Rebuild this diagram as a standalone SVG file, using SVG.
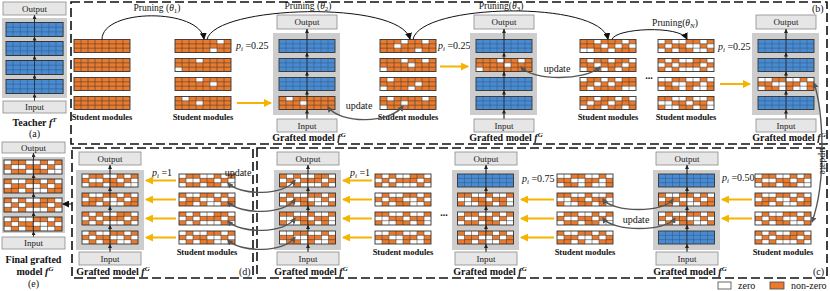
<svg xmlns="http://www.w3.org/2000/svg" width="830" height="291" viewBox="0 0 830 291">
<style>
text{font-family:"Liberation Serif","Times New Roman",serif;fill:#111}
.io{font-size:9px;text-anchor:middle;fill:#222}
.sm{font-size:8.5px;font-weight:bold;text-anchor:middle}
.gm{font-size:10px;font-weight:bold;text-anchor:middle}
.lb{font-size:10px}
.pr{font-size:9.5px;text-anchor:middle}
.box{fill:#e6e6e6;stroke:#8a8a8a;stroke-width:0.8}
.pan{fill:#cdcdcd}
.or{fill:#eb7a2c}
.wh{fill:#fff}
.gl{fill:none;stroke:#3a3a3a;stroke-width:0.55}
.glb{fill:none;stroke:#2f5c8a;stroke-width:0.55}
.bd{fill:none;stroke:#333;stroke-width:0.9}
.dash{fill:none;stroke:#111;stroke-width:1.6;stroke-dasharray:9 4}
.ya{fill:none;stroke:#f5b400;stroke-width:2;marker-end:url(#ay)}
.pa{fill:none;stroke:#111;stroke-width:1;marker-end:url(#ak)}
.ua{fill:none;stroke:#555;stroke-width:1.4;marker-end:url(#ag);marker-start:url(#ag)}
.va{fill:none;stroke:#222;stroke-width:0.7}
.vm{marker-end:url(#as)}
</style>
<defs>
<marker id="ay" viewBox="0 0 8 8" refX="7" refY="4" markerWidth="8" markerHeight="8" markerUnits="userSpaceOnUse" orient="auto"><path d="M0,0L8,4L0,8z" fill="#f5b400"/></marker>
<marker id="ak" viewBox="0 0 7 7" refX="6" refY="3.5" markerWidth="7" markerHeight="7" markerUnits="userSpaceOnUse" orient="auto"><path d="M0,0L7,3.5L0,7z" fill="#111"/></marker>
<marker id="ag" viewBox="0 0 6 6" refX="5" refY="3" markerWidth="6" markerHeight="6" markerUnits="userSpaceOnUse" orient="auto-start-reverse"><path d="M0,0L6,3L0,6z" fill="#555"/></marker>
<marker id="as" viewBox="0 0 4 4" refX="4" refY="2" markerWidth="4" markerHeight="4" markerUnits="userSpaceOnUse" orient="auto"><path d="M0,0L4,2L0,4z" fill="#222"/></marker>
<g id="gl"><path class="gl" d="M7,0V13M14,0V13M21,0V13M28,0V13M35,0V13M42,0V13M49,0V13M0,4.33H56M0,8.67H56"/><rect class="bd" width="56" height="13"/></g>
<g id="glb"><path class="glb" d="M7,0V13M14,0V13M21,0V13M28,0V13M35,0V13M42,0V13M49,0V13M0,4.33H56M0,8.67H56"/><rect class="bd" width="56" height="13"/></g>
<g id="bl"><rect width="56" height="13" fill="#4a8ad0"/><use href="#glb"/></g>
<g id="o0"><rect class="or" width="56" height="13"/><use href="#gl"/></g>
<g id="s1"><rect class="or" width="56" height="13"/><path class="wh" d="M42,0h7v4.33h-7zM35,8.67h7v4.33h-7z"/><use href="#gl"/></g>
<g id="s2"><rect class="or" width="56" height="13"/><path class="wh" d="M21,0h7v4.33h-7zM0,8.67h7v4.33h-7z"/><use href="#gl"/></g>
<g id="s3"><rect class="or" width="56" height="13"/><path class="wh" d="M21,0h7v4.33h-7zM35,4.33h7v4.33h-7z"/><use href="#gl"/></g>
<g id="s4"><rect class="or" width="56" height="13"/><path class="wh" d="M7,0h7v4.33h-7zM21,4.33h7v4.33h-7z"/><use href="#gl"/></g>
<g id="m1"><rect class="or" width="56" height="13"/><path class="wh" d="M21,0h7v4.33h-7zM42,0h7v4.33h-7zM14,4.33h7v4.33h-7zM35,8.67h7v4.33h-7z"/><use href="#gl"/></g>
<g id="m2"><rect class="or" width="56" height="13"/><path class="wh" d="M21,0h7v4.33h-7zM42,0h7v4.33h-7zM0,8.67h7v4.33h-7zM28,4.33h7v4.33h-7z"/><use href="#gl"/></g>
<g id="m3"><rect class="or" width="56" height="13"/><path class="wh" d="M7,0h7v4.33h-7zM35,4.33h7v4.33h-7zM0,8.67h7v4.33h-7zM28,8.67h7v4.33h-7z"/><use href="#gl"/></g>
<g id="m4"><rect class="or" width="56" height="13"/><path class="wh" d="M7,0h7v4.33h-7zM21,4.33h7v4.33h-7zM42,0h7v4.33h-7zM0,8.67h7v4.33h-7z"/><use href="#gl"/></g>
<g id="h1"><rect class="or" width="56" height="13"/><path class="wh" d="M14,0h7v4.33h-7zM42,0h7v4.33h-7zM0,8.67h7v4.33h-7zM21,4.33h7v4.33h-7zM28,8.67h7v4.33h-7zM49,4.33h7v4.33h-7zM35,4.33h7v4.33h-7zM7,8.67h7v4.33h-7z"/><use href="#gl"/></g>
<g id="h2"><rect class="or" width="56" height="13"/><path class="wh" d="M7,0h7v4.33h-7zM28,0h7v4.33h-7zM42,4.33h7v4.33h-7zM0,8.67h7v4.33h-7zM21,8.67h7v4.33h-7zM49,0h7v4.33h-7zM14,4.33h7v4.33h-7zM35,8.67h7v4.33h-7z"/><use href="#gl"/></g>
<g id="h3"><rect class="or" width="56" height="13"/><path class="wh" d="M0,0h7v4.33h-7zM21,0h7v4.33h-7zM35,0h7v4.33h-7zM14,4.33h7v4.33h-7zM42,8.67h7v4.33h-7zM7,8.67h7v4.33h-7zM28,4.33h7v4.33h-7zM49,8.67h7v4.33h-7z"/><use href="#gl"/></g>
<g id="h4"><rect class="or" width="56" height="13"/><path class="wh" d="M14,0h7v4.33h-7zM35,0h7v4.33h-7zM49,0h7v4.33h-7zM7,4.33h7v4.33h-7zM28,4.33h7v4.33h-7zM0,8.67h7v4.33h-7zM21,8.67h7v4.33h-7zM42,8.67h7v4.33h-7z"/><use href="#gl"/></g>
<g id="d1"><rect class="or" width="56" height="13"/><path class="wh" d="M0,0h7v4.33h-7zM14,0h7v4.33h-7zM21,0h7v4.33h-7zM42,0h7v4.33h-7zM7,4.33h7v4.33h-7zM28,4.33h7v4.33h-7zM35,4.33h7v4.33h-7zM49,4.33h7v4.33h-7zM0,8.67h7v4.33h-7zM14,8.67h7v4.33h-7zM35,8.67h7v4.33h-7zM42,8.67h7v4.33h-7z"/><use href="#gl"/></g>
<g id="d2"><rect class="or" width="56" height="13"/><path class="wh" d="M7,0h7v4.33h-7zM21,0h7v4.33h-7zM28,0h7v4.33h-7zM49,0h7v4.33h-7zM0,4.33h7v4.33h-7zM14,4.33h7v4.33h-7zM42,4.33h7v4.33h-7zM7,8.67h7v4.33h-7zM21,8.67h7v4.33h-7zM28,8.67h7v4.33h-7zM35,8.67h7v4.33h-7zM49,8.67h7v4.33h-7z"/><use href="#gl"/></g>
<g id="d3"><rect class="or" width="56" height="13"/><path class="wh" d="M0,0h7v4.33h-7zM7,0h7v4.33h-7zM28,0h7v4.33h-7zM35,0h7v4.33h-7zM49,0h7v4.33h-7zM14,4.33h7v4.33h-7zM21,4.33h7v4.33h-7zM42,4.33h7v4.33h-7zM0,8.67h7v4.33h-7zM21,8.67h7v4.33h-7zM35,8.67h7v4.33h-7zM42,8.67h7v4.33h-7z"/><use href="#gl"/></g>
<g id="d4"><rect class="or" width="56" height="13"/><path class="wh" d="M14,0h7v4.33h-7zM21,0h7v4.33h-7zM35,0h7v4.33h-7zM42,0h7v4.33h-7zM0,4.33h7v4.33h-7zM7,4.33h7v4.33h-7zM28,4.33h7v4.33h-7zM49,4.33h7v4.33h-7zM7,8.67h7v4.33h-7zM14,8.67h7v4.33h-7zM35,8.67h7v4.33h-7zM49,8.67h7v4.33h-7z"/><use href="#gl"/></g>
<g id="d5"><rect class="or" width="56" height="13"/><path class="wh" d="M0,0h7v4.33h-7zM21,0h7v4.33h-7zM28,0h7v4.33h-7zM42,0h7v4.33h-7zM7,4.33h7v4.33h-7zM14,4.33h7v4.33h-7zM35,4.33h7v4.33h-7zM49,4.33h7v4.33h-7zM0,8.67h7v4.33h-7zM21,8.67h7v4.33h-7zM42,8.67h7v4.33h-7zM49,8.67h7v4.33h-7z"/><use href="#gl"/></g>
<g id="d6"><rect class="or" width="56" height="13"/><path class="wh" d="M7,0h7v4.33h-7zM14,0h7v4.33h-7zM35,0h7v4.33h-7zM49,0h7v4.33h-7zM0,4.33h7v4.33h-7zM21,4.33h7v4.33h-7zM28,4.33h7v4.33h-7zM42,4.33h7v4.33h-7zM14,8.67h7v4.33h-7zM28,8.67h7v4.33h-7zM35,8.67h7v4.33h-7z"/><use href="#gl"/></g>
<g id="vaA"><path class="va" d="M0,101V15"/><path class="va vm" d="M0,101V93.5"/><path class="va vm" d="M0,79.5V74.5"/><path class="va vm" d="M0,60.5V55.5"/><path class="va vm" d="M0,41.5V36.5"/><path class="va vm" d="M0,22.5V15"/></g>
<g id="vaB"><path class="va" d="M0,119V29"/><path class="va vm" d="M0,119V109.5"/><path class="va vm" d="M0,96.5V90.5"/><path class="va vm" d="M0,77.5V71.5"/><path class="va vm" d="M0,58.5V52.5"/><path class="va vm" d="M0,39.5V29"/></g>
<g id="vaC"><path class="va" d="M0,252V165"/><path class="va vm" d="M0,252V244"/><path class="va vm" d="M0,231V225"/><path class="va vm" d="M0,212V206"/><path class="va vm" d="M0,193V187"/><path class="va vm" d="M0,174V165"/></g>
<g id="vaE"><path class="va" d="M0,237V153"/><path class="va vm" d="M0,237V231"/><path class="va vm" d="M0,217V212"/><path class="va vm" d="M0,198V193"/><path class="va vm" d="M0,179V174"/><path class="va vm" d="M0,160V153"/></g>
</defs>
<rect width="830" height="291" fill="#fff"/>

<g id="frames">
<rect class="dash" x="71" y="2" width="756" height="142"/>
<rect class="dash" x="72" y="148" width="181" height="130"/>
<rect class="dash" x="257" y="148" width="570" height="130"/>
<text class="lb" x="812" y="12">(b)</text>
<text class="lb" x="813" y="275">(c)</text>
<text class="lb" x="239" y="275">(d)</text>
</g>

<g id="teacher">
<rect class="box" x="3" y="2" width="63" height="13"/><text class="io" x="34.5" y="11.5">Output</text>
<rect class="pan" x="2" y="18" width="65" height="80"/>
<use href="#bl" transform="translate(6,22.5) scale(1.02,1.077)"/>
<use href="#bl" transform="translate(6,41.5) scale(1.02,1.077)"/>
<use href="#bl" transform="translate(6,60.5) scale(1.02,1.077)"/>
<use href="#bl" transform="translate(6,79.5) scale(1.02,1.077)"/>
<use href="#vaA" x="34.5"/>
<rect class="box" x="3" y="101" width="63" height="12"/><text class="io" x="34.5" y="110">Input</text>
<text class="gm" x="34.5" y="126">Teacher <tspan font-style="italic">f</tspan><tspan font-size="7" dy="-4" font-style="italic">T</tspan></text>
<text class="lb" x="34.5" y="137" text-anchor="middle">(a)</text>
</g>

<g id="b-student1">
<use href="#o0" x="74" y="39.5"/><use href="#o0" x="74" y="58.5"/><use href="#o0" x="74" y="77.5"/><use href="#o0" x="74" y="96.5"/>
<text class="sm" x="102" y="120">Student modules</text>
</g>
<g id="b-student2">
<use href="#s1" x="175" y="39.5"/><use href="#s2" x="175" y="58.5"/><use href="#s3" x="175" y="77.5"/><use href="#s4" x="175" y="96.5"/>
<text class="sm" x="203" y="120">Student modules</text>
<text class="lb" x="236" y="49"><tspan font-style="italic">p</tspan><tspan font-size="7" dy="2" font-style="italic">i</tspan><tspan dy="-2"> =0.25</tspan></text>
</g>
<g id="b-graft1">
<rect class="box" x="277" y="15" width="60" height="14"/><text class="io" x="307" y="25">Output</text>
<rect class="pan" x="273" y="33" width="67" height="82"/>
<use href="#bl" x="279" y="39.5"/><use href="#bl" x="279" y="58.5"/><use href="#bl" x="279" y="77.5"/><use href="#s4" x="279" y="96.5"/>
<use href="#vaB" x="307"/>
<rect class="box" x="277" y="119" width="60" height="13"/><text class="io" x="307" y="129">Input</text>
<text class="gm" x="309" y="141">Grafted model <tspan font-style="italic">f</tspan><tspan font-size="7" dy="-4" font-style="italic">G</tspan></text>
</g>
<g id="b-student3">
<use href="#m1" x="380" y="39.5"/><use href="#m2" x="380" y="58.5"/><use href="#m3" x="380" y="77.5"/><use href="#m4" x="380" y="96.5"/>
<text class="sm" x="408" y="120">Student modules</text>
<text class="lb" x="438" y="49"><tspan font-style="italic">p</tspan><tspan font-size="7" dy="2" font-style="italic">i</tspan><tspan dy="-2"> =0.25</tspan></text>
</g>
<g id="b-graft2">
<rect class="box" x="474" y="15" width="60" height="14"/><text class="io" x="504" y="25">Output</text>
<rect class="pan" x="470" y="33" width="67" height="82"/>
<use href="#bl" x="476" y="39.5"/><use href="#m2" x="476" y="58.5"/><use href="#bl" x="476" y="77.5"/><use href="#bl" x="476" y="96.5"/>
<use href="#vaB" x="504"/>
<rect class="box" x="474" y="119" width="60" height="13"/><text class="io" x="504" y="129">Input</text>
<text class="gm" x="506" y="141">Grafted model <tspan font-style="italic">f</tspan><tspan font-size="7" dy="-4" font-style="italic">G</tspan></text>
</g>
<g id="b-student4">
<use href="#h1" x="580" y="39.5"/><use href="#h2" x="580" y="58.5"/><use href="#h3" x="580" y="77.5"/><use href="#h4" x="580" y="96.5"/>
<text class="sm" x="608" y="120">Student modules</text>
<text class="lb" x="649" y="79" text-anchor="middle" font-weight="bold">...</text>
</g>
<g id="b-student5">
<use href="#d1" x="658" y="39.5"/><use href="#d2" x="658" y="58.5"/><use href="#d3" x="658" y="77.5"/><use href="#d4" x="658" y="96.5"/>
<text class="sm" x="686" y="120">Student modules</text>
<text class="lb" x="718" y="50"><tspan font-style="italic">p</tspan><tspan font-size="7" dy="2" font-style="italic">i</tspan><tspan dy="-2"> =0.25</tspan></text>
</g>
<g id="b-graft3">
<rect class="box" x="756" y="15" width="60" height="14"/><text class="io" x="786" y="25">Output</text>
<rect class="pan" x="752" y="33" width="67" height="82"/>
<use href="#bl" x="758" y="39.5"/><use href="#bl" x="758" y="58.5"/><use href="#d3" x="758" y="77.5"/><use href="#bl" x="758" y="96.5"/>
<use href="#vaB" x="786"/>
<rect class="box" x="756" y="119" width="60" height="13"/><text class="io" x="786" y="129">Input</text>
<text class="gm" x="789" y="141">Grafted model <tspan font-style="italic">f</tspan><tspan font-size="7" dy="-4" font-style="italic">G</tspan></text>
</g>

<g id="c-right-graft">
<rect class="box" x="656" y="152" width="62" height="13"/><text class="io" x="687" y="161.5">Output</text>
<rect class="pan" x="653" y="170" width="67" height="80"/>
<use href="#bl" x="658.5" y="174"/><use href="#d6" x="658.5" y="193"/><use href="#d1" x="658.5" y="212"/><use href="#bl" x="658.5" y="231"/>
<use href="#vaC" x="687"/>
<rect class="box" x="656" y="252" width="62" height="13"/><text class="io" x="687" y="261.5">Input</text>
<text class="gm" x="690" y="275">Grafted model <tspan font-style="italic">f</tspan><tspan font-size="7" dy="-4" font-style="italic">G</tspan></text>
</g>
<g id="c-right-student">
<use href="#d5" x="755" y="174"/><use href="#d6" x="755" y="193"/><use href="#d1" x="755" y="212"/><use href="#d2" x="755" y="231"/>
<text class="sm" x="783" y="255">Student modules</text>
<text class="lb" x="722" y="181"><tspan font-style="italic">p</tspan><tspan font-size="7" dy="2" font-style="italic">i</tspan><tspan dy="-2"> =0.50</tspan></text>
</g>
<g id="c-mid-graft">
<rect class="box" x="455" y="152" width="62" height="13"/><text class="io" x="486" y="161.5">Output</text>
<rect class="pan" x="452" y="170" width="67" height="80"/>
<use href="#bl" x="457.5" y="174"/><use href="#d4" x="457.5" y="193"/><use href="#d5" x="457.5" y="212"/><use href="#d6" x="457.5" y="231"/>
<use href="#vaC" x="486"/>
<rect class="box" x="455" y="252" width="62" height="13"/><text class="io" x="486" y="261.5">Input</text>
<text class="gm" x="490" y="275">Grafted model <tspan font-style="italic">f</tspan><tspan font-size="7" dy="-4" font-style="italic">G</tspan></text>
</g>
<g id="c-mid-student">
<use href="#d3" x="557" y="174"/><use href="#d4" x="557" y="193"/><use href="#d5" x="557" y="212"/><use href="#d6" x="557" y="231"/>
<text class="sm" x="585" y="255">Student modules</text>
<text class="lb" x="522" y="182"><tspan font-style="italic">p</tspan><tspan font-size="7" dy="2" font-style="italic">i</tspan><tspan dy="-2"> =0.75</tspan></text>
<text class="lb" x="444" y="216" text-anchor="middle" font-weight="bold">...</text>
</g>
<g id="c-left-graft">
<rect class="box" x="277" y="152" width="62" height="13"/><text class="io" x="308" y="161.5">Output</text>
<rect class="pan" x="274" y="170" width="67" height="80"/>
<use href="#d2" x="279.5" y="174"/><use href="#d1" x="279.5" y="193"/><use href="#d4" x="279.5" y="212"/><use href="#d3" x="279.5" y="231"/>
<use href="#vaC" x="308"/>
<rect class="box" x="277" y="252" width="62" height="13"/><text class="io" x="308" y="261.5">Input</text>
<text class="gm" x="311" y="275">Grafted model <tspan font-style="italic">f</tspan><tspan font-size="7" dy="-4" font-style="italic">G</tspan></text>
</g>
<g id="c-left-student">
<use href="#d2" x="375" y="174"/><use href="#d1" x="375" y="193"/><use href="#d4" x="375" y="212"/><use href="#d3" x="375" y="231"/>
<text class="sm" x="403" y="255">Student modules</text>
<text class="lb" x="350" y="176"><tspan font-style="italic">p</tspan><tspan font-size="7" dy="2" font-style="italic">i</tspan><tspan dy="-2"> =1</tspan></text>
</g>
<g id="d-graft">
<rect class="box" x="79" y="152" width="62" height="13"/><text class="io" x="110" y="161.5">Output</text>
<rect class="pan" x="76" y="170" width="68" height="80"/>
<use href="#d5" x="82" y="174"/><use href="#d6" x="82" y="193"/><use href="#d2" x="82" y="212"/><use href="#d1" x="82" y="231"/>
<use href="#vaC" x="110"/>
<rect class="box" x="79" y="252" width="62" height="13"/><text class="io" x="110" y="261.5">Input</text>
<text class="gm" x="113" y="275">Grafted model <tspan font-style="italic">f</tspan><tspan font-size="7" dy="-4" font-style="italic">G</tspan></text>
</g>
<g id="d-student">
<use href="#d5" x="179" y="174"/><use href="#d6" x="179" y="193"/><use href="#d2" x="179" y="212"/><use href="#d1" x="179" y="231"/>
<text class="sm" x="207" y="255">Student modules</text>
<text class="lb" x="152" y="176"><tspan font-style="italic">p</tspan><tspan font-size="7" dy="2" font-style="italic">i</tspan><tspan dy="-2"> =1</tspan></text>
</g>
<g id="final">
<rect class="box" x="2" y="142" width="63" height="11"/><text class="io" x="33.5" y="150.5">Output</text>
<rect class="pan" x="2" y="157" width="63" height="76"/>
<use href="#d5" transform="translate(4,160) scale(1.036,1.077)"/>
<use href="#d6" transform="translate(4,179) scale(1.036,1.077)"/>
<use href="#d2" transform="translate(4,198) scale(1.036,1.077)"/>
<use href="#d1" transform="translate(4,217) scale(1.036,1.077)"/>
<use href="#vaE" x="33.5"/>
<rect class="box" x="2" y="237" width="63" height="12"/><text class="io" x="33.5" y="246">Input</text>
<text class="gm" x="33.5" y="263">Final grafted</text>
<text class="gm" x="35" y="275">model <tspan font-style="italic">f</tspan><tspan font-size="7" dy="-4" font-style="italic">G</tspan></text>
<text class="lb" x="33.5" y="287" text-anchor="middle">(e)</text>
</g>

<g id="connectors">
<path class="pa" d="M102,39.5C102,8 200,8 204,39"/>
<path class="pa" d="M207,39.5C215,5 400,0 410,39"/>
<path class="pa" d="M413,39.5C420,3 600,0 608,39"/>
<path class="pa" d="M612,39.5C615,28 680,25 687,39"/>
<text class="pr" x="157" y="11">Pruning (<tspan font-style="italic">θ</tspan><tspan font-size="7" dy="2">1</tspan><tspan dy="-2">)</tspan></text>
<text class="pr" x="308" y="9">Pruning (<tspan font-style="italic">θ</tspan><tspan font-size="7" dy="2">2</tspan><tspan dy="-2">)</tspan></text>
<text class="pr" x="501" y="9">Pruning(<tspan font-style="italic">θ</tspan><tspan font-size="7" dy="2">3</tspan><tspan dy="-2">)</tspan></text>
<text class="pr" x="675" y="26">Pruning(<tspan font-style="italic">θ</tspan><tspan font-size="7" dy="2" font-style="italic">N</tspan><tspan dy="-2">)</tspan></text>
<path class="ya" d="M237,103H271"/>
<path class="ya" d="M440,66.5H468"/>
<path class="ya" d="M720,84H750"/>
<path class="ya" d="M176,180.5H146"/><path class="ya" d="M176,199.5H146"/><path class="ya" d="M176,218.5H146"/><path class="ya" d="M176,237.5H146"/>
<path class="ya" d="M372,180.5H343"/><path class="ya" d="M372,199.5H343"/><path class="ya" d="M372,218.5H343"/><path class="ya" d="M372,237.5H343"/>
<path class="ya" d="M554,199.5H521"/><path class="ya" d="M554,218.5H521"/><path class="ya" d="M554,237.5H521"/>
<path class="ya" d="M752,199.5H722"/><path class="ya" d="M752,218.5H722"/>
<path class="ua" d="M328,107C340,124 390,124 403,106"/>
<text class="lb" x="359" y="109" text-anchor="middle">update</text>
<path class="ua" d="M521,67C533,81 585,81 600,67"/>
<text class="lb" x="557" y="72" text-anchor="middle">update</text>
<path class="ua" d="M814,83C823,110 827,180 812,222"/>
<text class="lb" x="820" y="161" text-anchor="middle" transform="rotate(90 820 161)">update</text>
<path class="ua" d="M673,199C665,213 612,213 603,199"/>
<path class="ua" d="M675,218C667,232 612,232 603,218"/>
<text class="lb" x="636" y="223" text-anchor="middle">update</text>
<path class="ua" d="M295,180C285,196 240,196 228,183"/>
<path class="ua" d="M295,199C285,215 240,215 228,202"/>
<path class="ua" d="M295,218C285,234 240,234 228,221"/>
<path class="ua" d="M295,237C285,253 240,253 228,240"/>
<text class="lb" x="238" y="176" text-anchor="middle">update</text>
<path class="pa" d="M72,204H63"/>
</g>

<g id="legend">
<rect x="718" y="282" width="13" height="7" fill="#fff" stroke="#444" stroke-width="0.8"/>
<text class="lb" x="738" y="289" font-size="8.5">zero</text>
<rect x="770" y="282" width="14" height="7" class="or" stroke="#444" stroke-width="0.8"/>
<text class="lb" x="791" y="289" font-size="8.5">non-zero</text>
</g>
</svg>
